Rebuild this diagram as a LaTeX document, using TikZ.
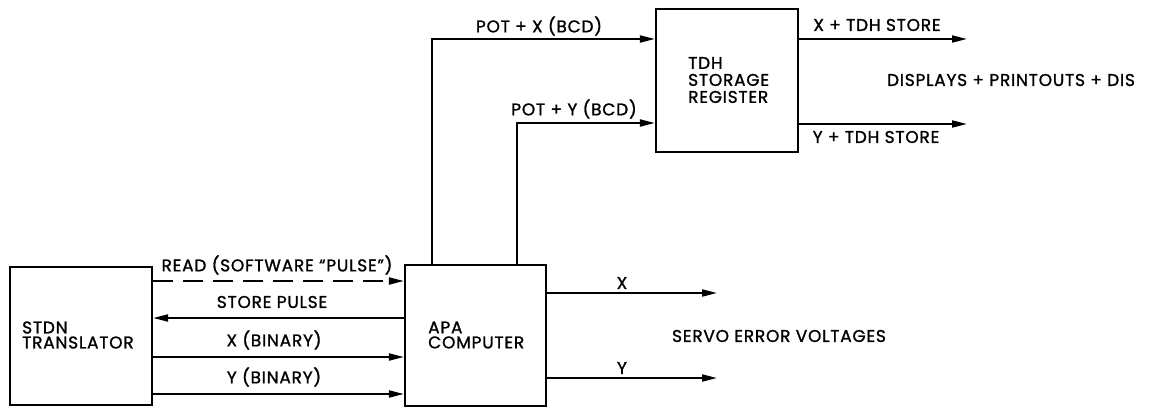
\documentclass[tikz,border=0pt]{standalone}
\usepackage{fontspec}
\setmainfont{Poppins}[LetterSpace=4.5,FakeBold=1.2]
\usetikzlibrary{arrows.meta}
\begin{document}
\begin{tikzpicture}[x=1pt,y=-1pt,
  box/.style={draw,line width=2.2pt,inner sep=0pt},
  conn/.style={line width=2pt,-{Triangle[length=15pt,width=7pt]}},
  lbl/.style={font=\fontsize{17}{17}\selectfont,inner sep=0pt},
  btxt/.style={font=\fontsize{17}{15}\selectfont,align=left,inner sep=0pt,anchor=west}]
\useasboundingbox (0,0) rectangle (1149,409);
\fill[white] (0,0) rectangle (1149,409);
% boxes
\node[box,minimum width=142pt,minimum height=138pt] (stdn) at (81,336) {};
\node[box,minimum width=141pt,minimum height=141pt] (apa) at (475.5,335.5) {};
\node[box,minimum width=142pt,minimum height=143pt] (tdh) at (727,80.5) {};
\node[btxt] (stdnt) at (22,335) {STDN\\TRANSLATOR};
\node[btxt] (apat) at (428,335) {APA\\COMPUTER};
\node[btxt,font=\fontsize{17}{17}\selectfont] (tdht) at (688,80) {TDH\\STORAGE\\REGISTER};
% coordinates
\coordinate (xo) at (717,293);
\coordinate (yo) at (717,378);
\coordinate (xs) at (967,39);
\coordinate (ys) at (967,124);
\coordinate (c1) at (432,39);
\coordinate (c2) at (517,123);
% stdn <-> apa
\draw[conn,dash pattern=on 20pt off 10pt] (stdn.east |- 0,281) -- (apa.west |- 0,281);
\draw[conn] (apa.west |- 0,318) -- (stdn.east |- 0,318);
\draw[conn] (stdn.east |- 0,357) -- (apa.west |- 0,357);
\draw[conn] (stdn.east |- 0,394) -- (apa.west |- 0,394);
% apa -> tdh
\draw[conn] (apa.north -| c1) -- (c1) -- (tdh.west |- c1);
\draw[conn] (apa.north -| c2) -- (c2) -- (tdh.west |- c2);
% apa outputs
\draw[conn] (apa.east |- xo) -- (xo);
\draw[conn] (apa.east |- yo) -- (yo);
% tdh outputs
\draw[conn] (tdh.east |- xs) -- (xs);
\draw[conn] (tdh.east |- ys) -- (ys);
% labels
\node[lbl] (l1) at (277,265) {READ (SOFTWARE \char"201C PULSE\char"201D)};
\node[lbl] (l2) at (272,302) {STORE PULSE};
\node[lbl] (l3) at (274,340) {X (BINARY)};
\node[lbl] (l4) at (274,377) {Y (BINARY)};
\node[lbl] (l5) at (539,26) {POT + X (BCD)};
\node[lbl] (l6) at (574,109) {POT + Y (BCD)};
\node[lbl] (l7) at (877,25) {X + TDH STORE};
\node[lbl] (l8) at (876,137) {Y + TDH STORE};
\node[lbl] (l9) at (1011,80) {DISPLAYS + PRINTOUTS + DIS};
\node[lbl] (l10) at (622,283) {X};
\node[lbl] (l11) at (622,368) {Y};
\node[lbl] (l12) at (779,336) {SERVO ERROR VOLTAGES};
\end{tikzpicture}
\end{document}
